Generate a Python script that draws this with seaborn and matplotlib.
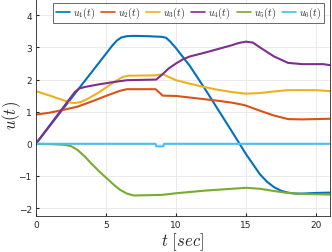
import numpy as np
import pandas as pd
import matplotlib
matplotlib.use("Agg")
import matplotlib.pyplot as plt
import seaborn as sns

# ---- data ----
t1 = [0, 1, 2, 3, 4, 5, 5.5, 5.8, 6.1, 6.5, 7, 8, 9, 9.3, 9.6, 10, 10.5, 11, 12, 13, 14, 14.5, 15, 16, 16.5, 17, 17.5, 18, 18.5, 19, 20, 21]
u1 = [0, 0.56, 1.12, 1.68, 2.24, 2.8, 3.08, 3.22, 3.31, 3.35, 3.36, 3.35, 3.33, 3.3, 3.18, 2.98, 2.7, 2.42, 1.76, 1.07, 0.38, 0.03, -0.32, -0.95, -1.18, -1.35, -1.46, -1.52, -1.55, -1.55, -1.53, -1.52]

t2 = [0, 1, 2, 3, 4, 5, 6, 6.5, 8.55, 9.05, 10, 11, 12, 13, 14, 14.6, 15, 16, 17, 18, 19, 20, 21]
u2 = [0.91, 0.97, 1.06, 1.16, 1.32, 1.49, 1.65, 1.7, 1.7, 1.5, 1.49, 1.44, 1.39, 1.34, 1.28, 1.23, 1.19, 1.03, 0.88, 0.77, 0.76, 0.77, 0.78]

t3 = [0, 1, 2, 2.5, 2.8, 3.2, 3.7, 4.5, 5.5, 6.2, 6.6, 8.5, 8.8, 9.1, 9.5, 10, 11, 12, 13, 14, 15, 16, 17, 18, 19, 20, 21]
u3 = [1.64, 1.5, 1.35, 1.28, 1.27, 1.3, 1.4, 1.6, 1.9, 2.08, 2.12, 2.13, 2.15, 2.16, 2.08, 1.98, 1.87, 1.77, 1.68, 1.61, 1.56, 1.58, 1.63, 1.67, 1.67, 1.67, 1.64]

t4 = [0, 1, 2, 2.5, 2.8, 3.1, 3.5, 4.5, 5.5, 6.5, 8.6, 9.0, 9.5, 10, 10.5, 11, 12, 13, 14, 14.5, 15, 15.5, 16, 17, 18, 19, 20, 20.5, 21]
u4 = [0, 0.58, 1.16, 1.45, 1.62, 1.72, 1.77, 1.85, 1.92, 1.98, 2.0, 2.15, 2.35, 2.5, 2.63, 2.72, 2.83, 2.95, 3.07, 3.14, 3.18, 3.15, 3.0, 2.72, 2.52, 2.48, 2.48, 2.48, 2.45]

t5 = [0, 1, 2, 2.5, 3, 3.5, 4, 4.5, 5, 5.5, 6, 6.5, 7, 8, 9, 10, 11, 12, 13, 14, 15, 16, 17, 18, 19, 20, 21]
u5 = [0, -0.01, -0.03, -0.07, -0.2, -0.4, -0.63, -0.85, -1.05, -1.25, -1.43, -1.55, -1.61, -1.6, -1.59, -1.54, -1.5, -1.46, -1.43, -1.4, -1.37, -1.4, -1.47, -1.53, -1.56, -1.57, -1.58]

t6 = [0, 8.55, 8.6, 9.1, 9.15, 21]
u6 = [0, 0, -0.08, -0.08, 0, 0]

labels = [r"$u_1(t)$", r"$u_2(t)$", r"$u_3(t)$", r"$u_4(t)$", r"$u_5(t)$", r"$u_6(t)$"]
colors = ["#0072BD", "#D95319", "#EDB120", "#7E2F8E", "#77AC30", "#4DBEEE"]
x_ticks = [0, 5, 10, 15, 20]
y_ticks = [-2, -1, 0, 1, 2, 3, 4]

series = [(t1, u1), (t2, u2), (t3, u3), (t4, u4), (t5, u5), (t6, u6)]
frames = []
for lab, (tt, uu) in zip(labels, series):
    frames.append(pd.DataFrame({"t": tt, "u": uu, "series": lab}))
df = pd.concat(frames, ignore_index=True)

sns.set_style("whitegrid")
plt.rcParams["mathtext.fontset"] = "cm"
plt.rcParams["font.family"] = ["DejaVu Sans"]

fig = plt.figure(figsize=(3.32, 2.53), dpi=100)
ax = fig.add_axes([0.108, 0.142, 0.886, 0.857])

sns.lineplot(data=df, x="t", y="u", hue="series", palette=colors, hue_order=labels,
             sort=False, estimator=None, linewidth=1.5, ax=ax)

ax.set_xlim(0, 21)
ax.set_ylim(-2.25, 4.5)
ax.set_xticks(x_ticks)
ax.set_yticks(y_ticks)
ax.tick_params(axis="both", labelsize=6.5, colors="#262626", direction="in", length=2.5, pad=3,
               left=True, bottom=True)
ax.grid(True, color="#e6e6e6", linewidth=0.6)
for s in ax.spines.values():
    s.set_visible(True)
    s.set_color("#262626")
    s.set_linewidth(0.6)

ax.set_xlabel(r"$t\ [sec]$", fontsize=12, labelpad=1)
ax.set_ylabel(r"$u(t)$", fontsize=12)
ax.yaxis.set_label_coords(-0.045, 0.47)

leg = ax.legend(loc="upper right", bbox_to_anchor=(0.978, 0.985), ncol=6, fontsize=7.2,
                handlelength=1.4, handletextpad=0.3, columnspacing=0.6, borderpad=0.25,
                frameon=True, fancybox=False, edgecolor="#262626", borderaxespad=0.0)
leg.get_frame().set_linewidth(0.6)
for line in leg.get_lines():
    line.set_linewidth(1.2)

fig.savefig("out.png", dpi=100)
